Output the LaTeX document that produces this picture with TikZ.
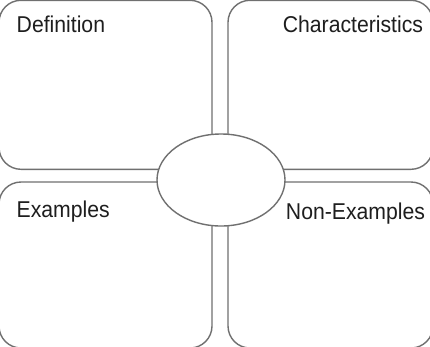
\documentclass[tikz,border=0pt]{standalone}
\usepackage{fontspec}
\setmainfont{Liberation Sans}
\usetikzlibrary{shapes.geometric}
\definecolor{linegray}{HTML}{707070}
\definecolor{textblack}{HTML}{1E1E1E}
\begin{document}
\begin{tikzpicture}[x=1pt,y=-1pt,
  panel/.style={draw=linegray,line width=1.4pt,rounded corners=22pt,fill=white,
    inner sep=0pt,outer sep=0pt,rectangle,anchor=north west},
  hub/.style={ellipse,draw=linegray,line width=1.4pt,fill=white,inner sep=0pt,
    minimum width=128pt,minimum height=92pt},
  lbl/.style={font=\fontsize{21.2}{24}\selectfont,text=textblack,inner sep=0pt,outer sep=0pt}]
\useasboundingbox (0,0) rectangle (430,346);
\fill[white] (0,0) rectangle (430,346);
\clip (0,0) rectangle (430,346);
\node[panel,minimum width=213pt,minimum height=169pt] (def) at (-1,0.3) {};
\node[panel,minimum width=205pt,minimum height=169pt] (char) at (228,0.3) {};
\node[panel,minimum width=213pt,minimum height=166pt] (ex) at (-1,182) {};
\node[panel,minimum width=205pt,minimum height=166pt] (nonex) at (228,182) {};
\node[hub] (center) at (221,180) {};
\node[lbl,anchor=base west] (tdef) at (16.7,32.3) {\scalebox{1}[1.08]{Definition}};
\node[lbl,anchor=base east] (tchar) at (423,32.3) {\scalebox{1}[1.08]{Characteristics}};
\node[lbl,anchor=base west] (tex) at (16.7,217.7) {\scalebox{1}[1.08]{Examples}};
\node[lbl,anchor=base east] (tnonex) at (425,219) {\scalebox{1}[1.08]{Non-Examples}};
\end{tikzpicture}
\end{document}
